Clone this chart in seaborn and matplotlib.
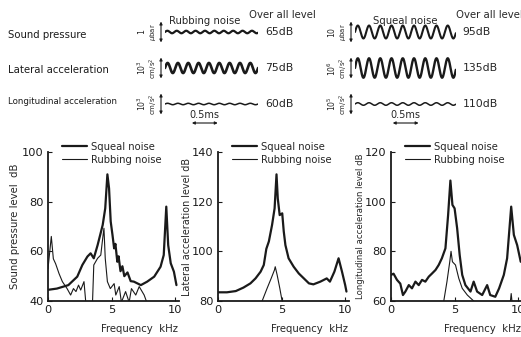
import numpy as np
import pandas as pd
import matplotlib
matplotlib.use("Agg")
import matplotlib.pyplot as plt
import seaborn as sns

# ---------------- data ----------------
# time waveforms (top): rows = sound pressure, lateral acc., longitudinal acc.
wave_rows = ["Sound pressure", "Lateral acceleration", "Longitudinal acceleration"]
rub_amp = [0.035, 0.14, 0.02]      # amplitude relative to row spacing
rub_freq = [5.5, 5.0, 5.0]          # kHz
rub_dur = 1.8                       # ms shown
rub_level = ["65dB", "75dB", "60dB"]
rub_scale_num = ["1", r"$10^3$", r"$10^3$"]
sq_amp = [0.18, 0.27, 0.035]
sq_freq = [4.6, 4.6, 4.6]
sq_dur = 1.95
sq_level = ["95dB", "135dB", "110dB"]
sq_scale_num = ["10", r"$10^6$", r"$10^5$"]
scale_unit = [r"$\mu$bar", r"cm/s$^2$", r"cm/s$^2$"]

# spectra (bottom)
sp_sq_f = [0, 0.7, 1.6, 2.3, 2.7, 3.1, 3.35, 3.6, 3.9, 4.3, 4.5, 4.67, 4.8, 4.93, 5.07, 5.2, 5.3, 5.45, 5.55,
           5.7, 5.85, 6.0, 6.25, 6.5, 6.75, 7.3, 7.8, 8.35, 8.85, 9.1, 9.3, 9.45, 9.65, 9.9, 10.1]
sp_sq_db = [44.5, 45, 46.4, 49.8, 54.5, 57.9, 59.2, 57.2, 62.5, 70.6, 77.3, 91, 85.4, 72, 66.6, 61.2, 63, 55.8, 58,
            52, 54, 50, 51.5, 48, 47.8, 46.4, 47.8, 49.8, 53.8, 58.5, 78, 62.5, 55.2, 51.8, 46.4]
sp_rb_f = [0, 0.16, 0.26, 0.42, 0.6, 0.87, 1.13, 1.5, 1.78, 2.0, 2.2, 2.4, 2.57, 2.83, 2.97, 3.5, 3.6, 3.9,
           4.15, 4.3, 4.4, 4.5, 4.67, 4.9, 5.2, 5.33, 5.6, 5.77, 6.1, 6.38, 6.56, 6.9, 7.17, 7.56, 7.8]
sp_rb_db = [53, 61, 66, 57, 55, 51, 47.8, 45, 42.4, 45, 43.8, 46.4, 44.4, 47.8, 39.5, 39.5, 54.5, 57.2,
            58.5, 65.2, 69.3, 57.2, 47.8, 45, 47, 42.4, 45.8, 39.5, 43.8, 39.5, 45, 42.4, 45.8, 42.4, 39]

la_sq_f = [0, 0.7, 1.4, 2.0, 2.55, 2.95, 3.35, 3.6, 3.8, 4.0, 4.25, 4.45, 4.6, 4.7, 4.85, 5.05, 5.17, 5.3,
           5.55, 5.95, 6.35, 6.75, 7.15, 7.5, 8.05, 8.55, 8.8, 9.15, 9.48, 9.75, 10.0, 10.1]
la_sq_db = [83.5, 83.5, 84, 85.4, 87.1, 89.1, 91.8, 94.5, 101, 104, 110.6, 117.3, 131, 121.3, 114.6, 115.3, 108, 102.5,
            97.2, 93.8, 91.1, 89.1, 87.1, 86.7, 87.8, 89.1, 87.8, 91.8, 97.2, 91.8, 86.4, 83.8]
la_rb_f = [3.4, 3.47, 3.86, 4.18, 4.44, 4.5, 4.65, 4.86, 5.04, 5.1]
la_rb_db = [78, 80, 85.1, 89.1, 92.5, 93.8, 90.5, 85.1, 80, 78]

lo_sq_f = [0, 0.2, 0.47, 0.73, 0.94, 1.13, 1.4, 1.65, 1.92, 2.18, 2.44, 2.7, 2.97, 3.23, 3.5, 3.75, 4.0, 4.28,
           4.49, 4.67, 4.83, 5.0, 5.2, 5.4, 5.6, 5.85, 6.25, 6.5, 6.77, 7.17, 7.56, 7.8, 8.2, 8.5, 8.87, 9.13,
           9.45, 9.66, 9.92, 10.2]
lo_sq_db = [70.5, 71, 68.5, 67, 62.4, 63.8, 66.4, 65.1, 67.8, 66.4, 68.5, 67.8, 69.8, 71.1, 72.5, 74.5, 77.2, 81.2,
            94.6, 108.5, 98.7, 97.3, 89.3, 78.5, 70.5, 66.4, 63.8, 67.8, 63.8, 62.4, 66.4, 62.4, 61.7, 65.1, 70.5, 77.2,
            98, 86.6, 82.5, 75.8]
lo_rb_f = [4.1, 4.15, 4.4, 4.62, 4.72, 4.83, 5.07, 5.33, 5.6, 6.0, 6.5, 6.6, 9.35, 9.45, 9.55]
lo_rb_db = [58, 60, 67.8, 75.8, 80, 75.8, 74.5, 69.1, 65.1, 62.4, 60, 58, 58, 63, 58]

panel_ylabels = ["Sound pressure level  dB", "Lateral acceleration level dB", "Longitudinal acceleration level dB"]
panel_ylims = [(40, 100), (80, 140), (60, 120)]
panel_yticks = [[40, 60, 80, 100], [80, 100, 120, 140], [60, 80, 100, 120]]
freq_ticks = [0, 5, 10]

# ---------------- style ----------------
sns.set_theme(style="ticks")
plt.rcParams["font.family"] = ["DejaVu Sans"]
plt.rcParams["mathtext.fontset"] = "dejavusans"

W, H = 521, 337
fig = plt.figure(figsize=(W / 100, H / 100), dpi=100)
fig.patch.set_facecolor("white")


def fx(px):
    return px / W


def fy(py):
    return 1 - py / H


# ---------------- top: waveforms ----------------
px_per_ms = 51.7
row_px = 36.0
top_px, bot_px = 10, 130
ylim_top = 22 / row_px
ylim_bot = -2 - 26 / row_px

for lbl, py, fs in zip(wave_rows, [35, 70, 101], [7.3, 7.3, 6.2]):
    fig.text(fx(8), fy(py), lbl, ha="left", va="center", fontsize=fs, color="k")


def wave_axes(left_px, dur, amps, freqs, levels, nums, title, title_x, bar_t0, lw_list):
    ax = fig.add_axes([fx(left_px), fy(bot_px), dur * px_per_ms / W, (bot_px - top_px) / H])
    ax.set_xlim(0, dur)
    ax.set_ylim(ylim_bot, ylim_top)
    ax.axis("off")
    t = np.linspace(0, dur, 600)
    for i in range(3):
        row = -i
        df = pd.DataFrame({"t": t, "y": row + amps[i] * np.sin(2 * np.pi * freqs[i] * t)})
        sns.lineplot(data=df, x="t", y="y", ax=ax, color="k", lw=lw_list[i], sort=False, estimator=None)
        ax.annotate("", xy=(-4 / px_per_ms, row + 0.29), xytext=(-4 / px_per_ms, row - 0.29),
                    arrowprops=dict(arrowstyle="<|-|>", lw=0.8, color="k", mutation_scale=4,
                                    shrinkA=0, shrinkB=0), annotation_clip=False)
        ax.annotate(scale_unit[i], xy=(0, row), xytext=(-11.5, 0), textcoords="offset pixels",
                    rotation=90, ha="center", va="center", fontsize=5.0, annotation_clip=False)
        ax.annotate(nums[i], xy=(0, row), xytext=(-23, 0), textcoords="offset pixels",
                    rotation=90, ha="center", va="center", fontsize=5.6, annotation_clip=False)
        ax.annotate(levels[i], xy=(dur, row), xytext=(7, 0), textcoords="offset pixels",
                    ha="left", va="center", fontsize=7.8, annotation_clip=False)
    ax.text(title_x, 0.30, title, ha="center", va="center", fontsize=7.3)
    ax.text(bar_t0 + 0.25, -2 - 11 / row_px, "0.5ms", ha="center", va="center", fontsize=7)
    ax.annotate("", xy=(bar_t0, -2 - 19 / row_px), xytext=(bar_t0 + 0.5, -2 - 19 / row_px),
                arrowprops=dict(arrowstyle="<|-|>", lw=0.8, color="k", mutation_scale=4,
                                shrinkA=0, shrinkB=0), annotation_clip=False)
    return ax


wave_axes(165, rub_dur, rub_amp, rub_freq, rub_level, rub_scale_num, "Rubbing noise", 0.77, 0.52,
          [1.6, 1.9, 1.1])
wave_axes(355, sq_dur, sq_amp, sq_freq, sq_level, sq_scale_num, "Squeal noise", 0.97, 0.73,
          [1.5, 1.7, 1.1])
fig.text(fx(282), fy(15), "Over all level", ha="center", va="center", fontsize=7.3)
fig.text(fx(489), fy(15), "Over all level", ha="center", va="center", fontsize=7.3)

# ---------------- bottom: spectra ----------------
spectra = [(sp_sq_f, sp_sq_db, sp_rb_f, sp_rb_db),
           (la_sq_f, la_sq_db, la_rb_f, la_rb_db),
           (lo_sq_f, lo_sq_db, lo_rb_f, lo_rb_db)]
lefts = [48, 218, 391]
ylab_x = [-0.214, -0.195, -0.2]
ylab_fs = [7.3, 6.9, 6.1]
ax_w = 131 / W
for k in range(3):
    ax = fig.add_axes([fx(lefts[k]), fy(301), ax_w, 149 / H])
    sqf, sqd, rbf, rbd = spectra[k]
    d1 = pd.DataFrame({"f": sqf, "dB": sqd})
    d2 = pd.DataFrame({"f": rbf, "dB": rbd})
    sns.lineplot(data=d1, x="f", y="dB", ax=ax, color="k", lw=1.6, sort=False, estimator=None,
                 label="Squeal noise")
    sns.lineplot(data=d2, x="f", y="dB", ax=ax, color="k", lw=0.8, sort=False, estimator=None,
                 label="Rubbing noise")
    ax.set_xlim(0, 10.3)
    ax.set_ylim(*panel_ylims[k])
    ax.set_yticks(panel_yticks[k])
    ax.set_xticks(freq_ticks)
    ax.set_facecolor("white")
    for s in ["top", "right"]:
        ax.spines[s].set_visible(False)
    for s in ["left", "bottom"]:
        ax.spines[s].set_linewidth(1.3)
        ax.spines[s].set_color("k")
    ax.tick_params(direction="in", length=3, width=0.8, labelsize=8.2, pad=3, colors="k")
    ax.set_xlabel("Frequency  kHz", fontsize=7.3)
    ax.xaxis.set_label_coords(0.70, -0.155)
    ax.set_ylabel(panel_ylabels[k], fontsize=ylab_fs[k])
    ax.yaxis.set_label_coords(ylab_x[k], 0.5)
    ax.legend(loc="upper left", bbox_to_anchor=(0.11, 1.07), frameon=False, fontsize=7.2,
              handlelength=2.5, handletextpad=0.35, labelspacing=0.3, borderpad=0, borderaxespad=0)
    ax.grid(False)

fig.savefig("out.png", dpi=100, facecolor="white")
